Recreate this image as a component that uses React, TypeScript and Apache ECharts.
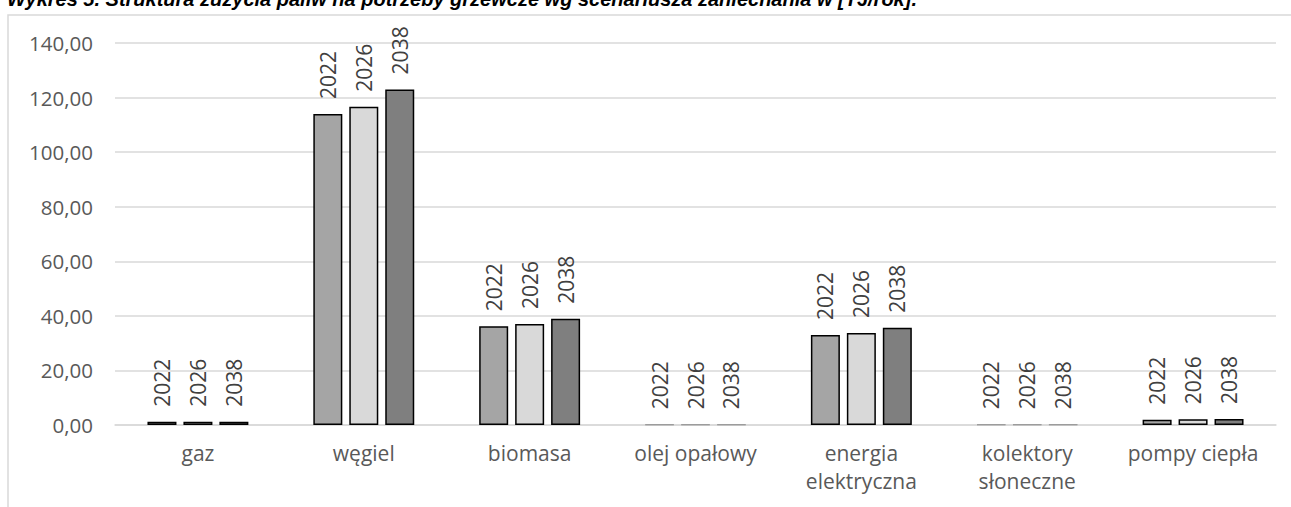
import React, { useEffect, useRef } from "react";
import * as echarts from "echarts";

const categories = [
  "gaz",
  "węgiel",
  "biomasa",
  "olej opałowy",
  "energia\nelektryczna",
  "kolektory\nsłoneczne",
  "pompy ciepła",
];
const seriesNames = ["2022", "2026", "2038"];
const values2022 = [1.2, 114.0, 36.2, 0.2, 33.0, 0.2, 1.9];
const values2026 = [1.2, 116.6, 37.0, 0.2, 33.7, 0.2, 2.1];
const values2038 = [1.2, 123.0, 38.9, 0.2, 35.6, 0.2, 2.2];
const yTicks = [0, 20, 40, 60, 80, 100, 120, 140];
const colors = ["#a5a5a5", "#d9d9d9", "#7f7f7f"];
const title =
  "Wykres 5. Struktura zużycia paliw na potrzeby grzewcze wg scenariusza zaniechania w [TJ/rok].";

const FONT = "'Open Sans', 'Noto Sans', sans-serif";

export default function App() {
  const ref = useRef<HTMLDivElement>(null);
  useEffect(() => {
    if (!ref.current) return;
    const chart = echarts.init(ref.current, null, { renderer: "svg" });
    const all = [values2022, values2026, values2038];
    chart.setOption({
      animation: false,
      backgroundColor: "#ffffff",
      graphic: [
        {
          type: "rect",
          shape: { x: 8, y: 15, width: 1400, height: 600 },
          style: { fill: "none", stroke: "#d9d9d9", lineWidth: 1.5 },
          silent: true,
        },
        {
          type: "text",
          x: 7,
          y: -1,
          style: {
            text: title,
            fontFamily: "'Liberation Sans', Arial, sans-serif",
            fontStyle: "italic",
            fontWeight: "bold",
            fontSize: 20,
            fill: "#000000",
            verticalAlign: "middle",
            align: "left",
          },
        },
      ],
      grid: { left: 115, right: 15, top: 43, bottom: 82, containLabel: false },
      xAxis: {
        type: "category",
        data: categories,
        axisLine: { lineStyle: { color: "#d9d9d9", width: 1.5 } },
        axisTick: { show: false },
        axisLabel: {
          color: "#595959",
          fontFamily: FONT,
          fontSize: 21,
          margin: 14,
          lineHeight: 28,
          interval: 0,
        },
      },
      yAxis: {
        type: "value",
        min: 0,
        max: yTicks[yTicks.length - 1],
        interval: 20,
        axisLine: { show: false },
        axisTick: { show: false },
        splitLine: { lineStyle: { color: "#d9d9d9", width: 1.5 } },
        axisLabel: {
          color: "#595959",
          fontFamily: FONT,
          fontSize: 20.5,
          margin: 22,
          formatter: (v: number) => v.toFixed(2).replace(".", ","),
        },
      },
      series: seriesNames.map((name, i) => ({
        name,
        type: "bar",
        barWidth: 29,
        barGap: "24%",
        data: all[i].map((v) =>
          v < 0.5
            ? { value: v, itemStyle: { borderColor: "#999999", borderWidth: 1 } }
            : v
        ),
        itemStyle: { color: colors[i], borderColor: "#000000", borderWidth: 1.5 },
        label: {
          show: true,
          position: "top",
          rotate: 90,
          align: "left",
          verticalAlign: "middle",
          distance: 15,
          formatter: "{a}",
          color: "#404040",
          fontFamily: FONT,
          fontSize: 21,
        },
      })),
    });
    return () => chart.dispose();
  }, []);
  return <div ref={ref} style={{ width: 1291, height: 507, position: "absolute", left: 0, top: 0 }} />;
}
